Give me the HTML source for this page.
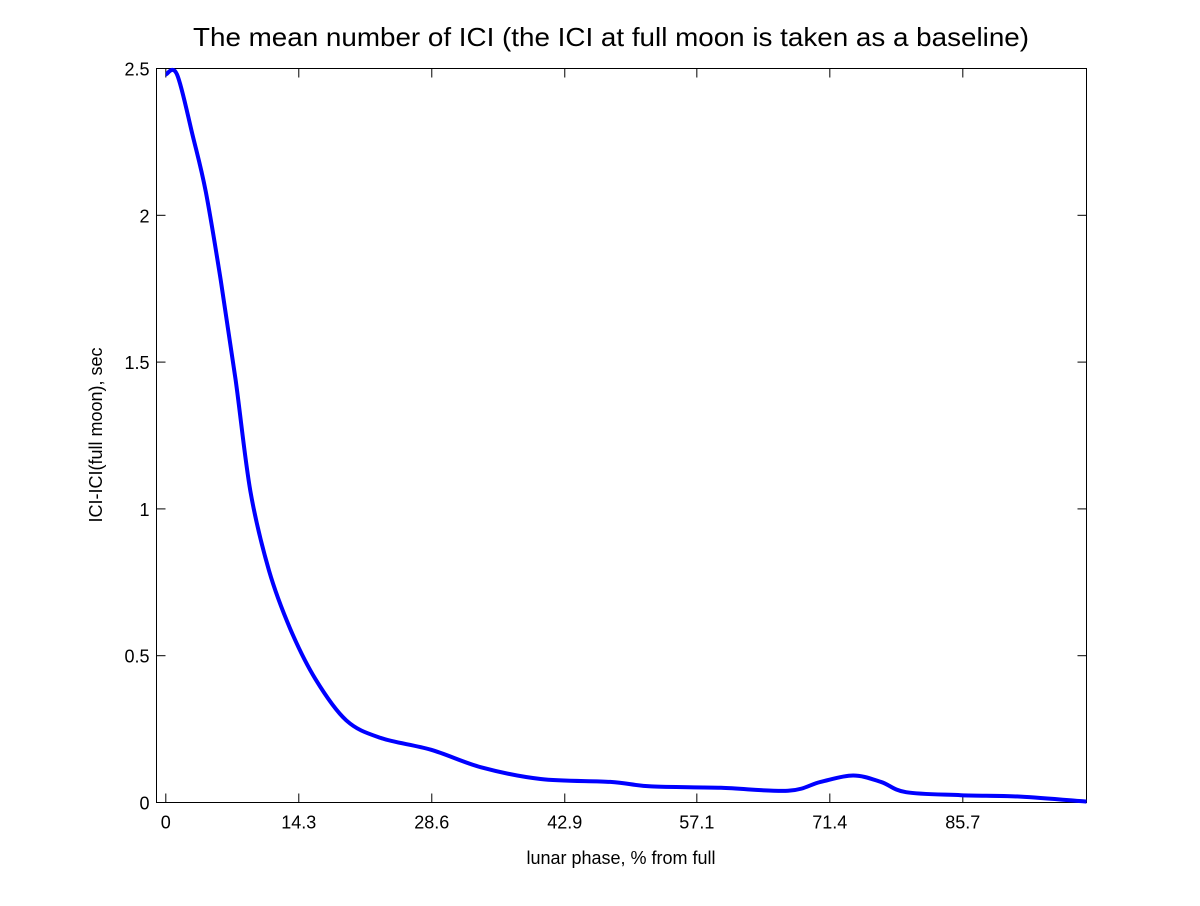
<!DOCTYPE html>
<html><head><meta charset="utf-8"><style>
html,body{margin:0;padding:0;background:#fff;}
svg text{font-family:"Liberation Sans",sans-serif;fill:#000;}
</style></head><body>
<svg id="chart" width="1200" height="901" viewBox="0 0 1200 901" xmlns="http://www.w3.org/2000/svg">
<rect width="1200" height="901" fill="#fff"/>
<text x="611" y="46" font-size="26" text-anchor="middle" textLength="836" lengthAdjust="spacingAndGlyphs">The mean number of ICI (the ICI at full moon is taken as a baseline)</text>
<rect x="156.5" y="68.5" width="930" height="734" fill="none" stroke="#000" stroke-width="1"/>
<g id="xticks"></g>
<g id="yticks"></g>
<text x="621" y="864" font-size="18" text-anchor="middle">lunar phase, % from full</text>
<text transform="translate(102,435) rotate(-90)" font-size="18" text-anchor="middle">ICI-ICI(full moon), sec</text>
<path id="curve" fill="none" stroke="#0000ff" stroke-width="4" stroke-linejoin="round"/>
</svg>
<script>
const xVals=[0,1.2,2.9,4.3,5.9,7.5,9.1,11.1,13.4,16.1,19.4,23.1,28.5,33.9,40.3,47.8,52.2,59.7,66.9,70.4,73.9,76.9,79.6,85.5,91.9,99];
const yVals=[2.48,2.48,2.27,2.08,1.78,1.44,1.06,0.79,0.59,0.42,0.28,0.22,0.18,0.12,0.08,0.07,0.055,0.05,0.04,0.07,0.092,0.07,0.035,0.025,0.02,0.003];
const xTicks=[0,14.3,28.6,42.9,57.1,71.4,85.7];
const yTicks=[0,0.5,1,1.5,2,2.5];
const X0=156.5,X1=1086.5,Y0=802.5,Y1=68.5,xmin=-1,xmax=99,ymin=0,ymax=2.5;
const sx=v=>X0+(v-xmin)/(xmax-xmin)*(X1-X0);
const sy=v=>Y0-(v-ymin)/(ymax-ymin)*(Y0-Y1);
const NS="http://www.w3.org/2000/svg";
const xg=document.getElementById('xticks'),yg=document.getElementById('yticks');
function ln(g,x1,y1,x2,y2){const l=document.createElementNS(NS,'line');l.setAttribute('x1',x1);l.setAttribute('y1',y1);l.setAttribute('x2',x2);l.setAttribute('y2',y2);l.setAttribute('stroke','#000');


g.appendChild(l);}
xTicks.forEach(t=>{const x=sx(t);ln(xg,x,Y0,x,Y0-9);ln(xg,x,Y1,x,Y1+9);
const tx=document.createElementNS(NS,'text');tx.setAttribute('x',x);tx.setAttribute('y',Y0+26);tx.setAttribute('font-size','18');tx.setAttribute('text-anchor','middle');tx.textContent=t;


xg.appendChild(tx);});
yTicks.forEach(t=>{const y=sy(t);ln(yg,X0,y,X0+9,y);ln(yg,X1,y,X1-9,y);
const tx=document.createElementNS(NS,'text');tx.setAttribute('x',X0-7);tx.setAttribute('y',y+7);tx.setAttribute('font-size','18');tx.setAttribute('text-anchor','end');tx.textContent=t;


yg.appendChild(tx);});
const P=xVals.map((v,i)=>[sx(v),sy(yVals[i])]);
let d='M'+P[0][0].toFixed(1)+' '+P[0][1].toFixed(1);
for(let i=0;i<P.length-1;i++){
  const p0=P[Math.max(0,i-1)],p1=P[i],p2=P[i+1],p3=P[Math.min(P.length-1,i+2)];
  const c1x=p1[0]+(p2[0]-p0[0])/6,c1y=p1[1]+(p2[1]-p0[1])/6;
  const c2x=p2[0]-(p3[0]-p1[0])/6,c2y=p2[1]-(p3[1]-p1[1])/6;
  d+=` C${c1x.toFixed(1)} ${c1y.toFixed(1)} ${c2x.toFixed(1)} ${c2y.toFixed(1)} ${p2[0].toFixed(1)} ${p2[1].toFixed(1)}`;
}
document.getElementById('curve').setAttribute('d',d);
</script>
</body></html>
